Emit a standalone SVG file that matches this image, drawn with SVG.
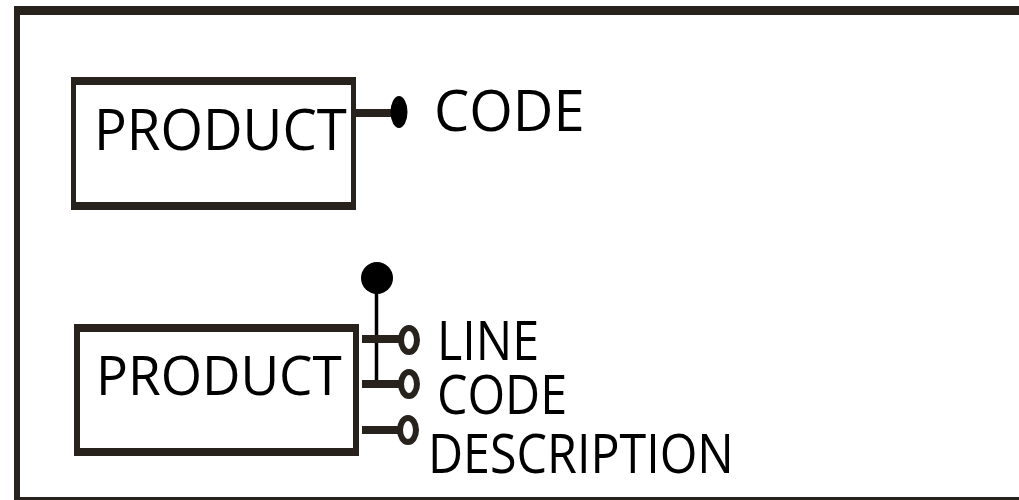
<svg xmlns="http://www.w3.org/2000/svg" width="1019" height="500" viewBox="0 0 1019 500">
<style>
.frame{fill:#27221c}
.lbl{font-family:"Open Sans","Noto Sans",sans-serif;fill:#000}
.bar{fill:#27221c}
.ring{fill:#fff;stroke:#27221c;stroke-width:6}
</style>
<rect width="1019" height="500" fill="#fff"/>
<g id="frame">
<path class="frame" fill-rule="evenodd" d="M14 6H1019V15H20V497H1019V506H14Z"/>
</g>
<g id="node-product-1">
<path class="frame" fill-rule="evenodd" d="M71 77H356V210H71Z M76 85V202H351V85Z"/>
<text class="lbl" font-size="56" transform="translate(94,150) scale(0.975,1)">PRODUCT</text>
</g>
<g id="node-code-1">
<text class="lbl" x="434" y="131" font-size="56">CODE</text>
</g>
<g id="node-product-2">
<path class="frame" fill-rule="evenodd" d="M74 324H359V456H74Z M80 332V448H353V332Z"/>
<text class="lbl" font-size="55" transform="translate(96,395) scale(0.965,1)">PRODUCT</text>
</g>
<g id="node-line">
<text class="lbl" font-size="55" transform="translate(437,360) scale(0.88,1)">LINE</text>
</g>
<g id="node-code-2">
<text class="lbl" font-size="55" transform="translate(437,414) scale(0.88,1)">CODE</text>
</g>
<g id="node-description">
<text class="lbl" font-size="55" transform="translate(428,473) scale(0.88,1)">DESCRIPTION</text>
</g>
<g id="connectors">
<rect class="bar" x="356" y="109" width="38" height="8"/>
<ellipse cx="399" cy="112" rx="8.5" ry="16" fill="#000"/>
<line x1="376.5" y1="290" x2="376.5" y2="384" stroke="#000" stroke-width="3.5"/>
<circle cx="377" cy="278" r="16" fill="#000"/>
<rect class="bar" x="362" y="335" width="38" height="8"/>
<ellipse class="ring" cx="409" cy="340" rx="8" ry="12"/>
<rect class="bar" x="362" y="380" width="38" height="8"/>
<ellipse class="ring" cx="409" cy="384" rx="8" ry="12"/>
<rect class="bar" x="362" y="426" width="38" height="8"/>
<ellipse class="ring" cx="408" cy="430" rx="8" ry="12"/>
</g>
</svg>
